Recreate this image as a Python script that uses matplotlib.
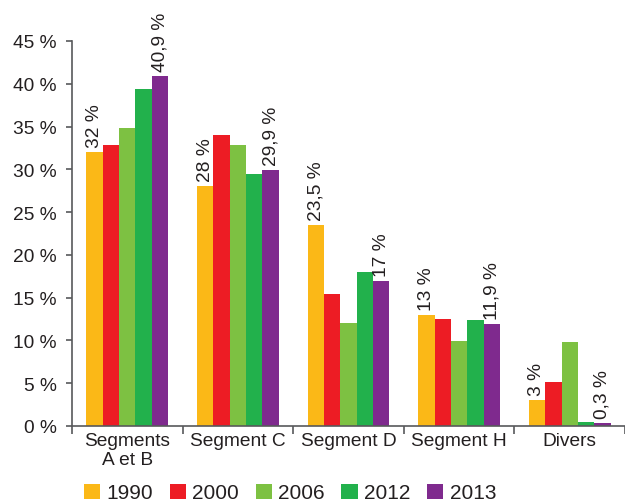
import matplotlib
matplotlib.use("Agg")
import matplotlib.pyplot as plt
import numpy as np

categories = ["Segments\nA et B", "Segment C", "Segment D", "Segment H", "Divers"]
years = ["1990", "2000", "2006", "2012", "2013"]
v1990 = [32, 28, 23.5, 13, 3]
v2000 = [32.8, 34.0, 15.4, 12.5, 5.2]
v2006 = [34.8, 32.9, 12.0, 9.9, 9.8]
v2012 = [39.4, 29.4, 18.0, 12.4, 0.5]
v2013 = [40.9, 29.9, 17, 11.9, 0.3]
series = [v1990, v2000, v2006, v2012, v2013]
colors = ["#FBB817", "#ED1C24", "#7DC142", "#22B14C", "#7F2A8E"]
labelled = ["1990", "2013"]
yticks = [0, 5, 10, 15, 20, 25, 30, 35, 40, 45]

plt.rcParams['font.family'] = ['Liberation Sans', 'DejaVu Sans']
txt = "#231F20"
axc = "#58595B"

fig = plt.figure(figsize=(6.25, 5.02), dpi=100)
ax = fig.add_axes([72/625, 1-427/502, 1-72/625, (427-42)/502])

n = len(series)
bw = 0.148
x = np.arange(len(categories))
for i, (yr, vals, c) in enumerate(zip(years, series, colors)):
    pos = x + (i - (n-1)/2) * bw
    ax.bar(pos, vals, width=bw, color=c, label=yr, linewidth=0)
    if yr in labelled:
        for px, v in zip(pos, vals):
            s = f"{v:g}".replace('.', ',') + " %"
            ax.annotate(s, (px, v), xytext=(0, 5), textcoords='offset pixels',
                        rotation=90, ha='center', va='bottom',
                        fontsize=13.8, color=txt)

ax.set_xlim(-0.5, len(categories) - 0.5)
ax.set_ylim(0, 45)
ax.set_yticks(yticks)
ax.set_yticklabels([f"{t} %" for t in yticks])
ax.set_xticks(x)
ax.set_xticklabels(categories)
ax.set_xticks(np.arange(len(categories)+1) - 0.5, minor=True)
ax.tick_params(axis='x', which='major', length=0, pad=4, labelsize=13.8, labelcolor=txt)
ax.tick_params(axis='x', which='minor', length=5.5, width=1.2, color=axc, direction='out')
ax.tick_params(axis='y', length=4.5, width=1.2, color=axc, pad=6.5, labelsize=13.8, labelcolor=txt)
for sp in ['top', 'right']:
    ax.spines[sp].set_visible(False)
for sp in ['left', 'bottom']:
    ax.spines[sp].set_color(axc)
    ax.spines[sp].set_linewidth(1.2)
ax.spines['left'].set_bounds(0, 45)

leg = fig.legend(loc='center', bbox_to_anchor=(290/625, 1-494/502), ncol=5, frameon=False,
                 fontsize=15, handlelength=0.78, handleheight=0.75, handletextpad=0.3,
                 columnspacing=0.8, borderpad=0, borderaxespad=0)
for t in leg.get_texts():
    t.set_color(txt)

fig.savefig("out.png", dpi=100)
